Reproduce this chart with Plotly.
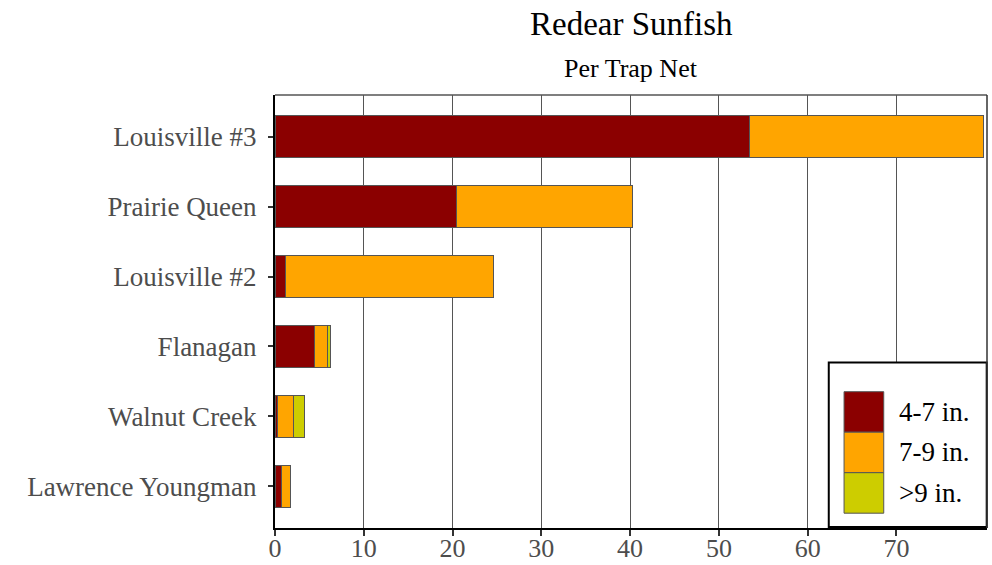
import plotly.graph_objects as go

lakes = ["Louisville #3", "Prairie Queen", "Louisville #2", "Flanagan", "Walnut Creek", "Lawrence Youngman"]
size_4_7 = [53.5, 20.4, 1.2, 4.5, 0.3, 0.7]
size_7_9 = [26.3, 19.9, 23.4, 1.4, 1.8, 1.0]
size_9p = [0.0, 0.0, 0.0, 0.3, 1.2, 0.0]
series_names = ["4-7 in.", "7-9 in.", ">9 in."]
colors = ["#8B0000", "#FFA500", "#CDCD00"]
x_ticks = [0, 10, 20, 30, 40, 50, 60, 70]

FONT = "Liberation Serif, Times New Roman, serif"

fig = go.Figure()
for name, vals, col in zip(series_names, [size_4_7, size_7_9, size_9p], colors):
    fig.add_trace(go.Bar(
        y=lakes, x=vals, name=name, orientation="h",
        marker=dict(color=col, line=dict(color="#555555", width=1)),
        width=0.6, showlegend=False,
    ))

# plot area in pixels
L, R, T, B = 275, 987.3, 95, 528
W, H = 992, 565

def px(x):
    return (x - L) / (R - L)

def py(y):
    return (B - y) / (B - T)

shapes = []
annotations = []
# legend box
shapes.append(dict(type="rect", xref="paper", yref="paper",
                   x0=px(829), x1=px(987), y0=py(527), y1=py(362.5),
                   line=dict(color="black", width=2), fillcolor="white", layer="above"))
key_tops = [391.7, 432.2, 472.7]
for i, (name, col) in enumerate(zip(series_names, colors)):
    y0 = key_tops[i]
    shapes.append(dict(type="rect", xref="paper", yref="paper",
                       x0=px(844.3), x1=px(884), y0=py(y0 + 40.5), y1=py(y0),
                       line=dict(color="#555555", width=1), fillcolor=col, layer="above"))
    annotations.append(dict(xref="paper", yref="paper", x=px(897), y=py(y0 + 20.25),
                            text=name, showarrow=False, xanchor="left", yanchor="middle",
                            font=dict(family=FONT, size=27, color="black")))

annotations.append(dict(xref="paper", yref="paper", x=0.5, y=py(24), text="Redear Sunfish",
                        showarrow=False, xanchor="center", yanchor="middle",
                        font=dict(family=FONT, size=33, color="black")))
annotations.append(dict(xref="paper", yref="paper", x=0.5, y=py(68), text="Per Trap Net",
                        showarrow=False, xanchor="center", yanchor="middle",
                        font=dict(family=FONT, size=26, color="black")))

fig.update_layout(
    template="none",
    barmode="stack",
    width=W, height=H,
    margin=dict(l=L, r=W - R, t=T, b=H - B, pad=0),
    plot_bgcolor="white", paper_bgcolor="white",
    font=dict(family=FONT, size=27, color="#4d4d4d"),
    shapes=shapes, annotations=annotations,
    xaxis=dict(range=[0, 80.2], tickvals=x_ticks, showgrid=True, gridcolor="#555555", gridwidth=1,
               zeroline=False, showline=True, linecolor="black", linewidth=2, mirror=False,
               automargin=False,
               ticks="outside", ticklen=6, tickcolor="#333333", tickwidth=1.5,
               ticklabelstandoff=-10,
               tickfont=dict(family=FONT, size=26, color="#4d4d4d")),
    yaxis=dict(categoryorder="array", categoryarray=lakes, range=[5.6, -0.6],
               showgrid=False, zeroline=False, showline=True, linecolor="black", linewidth=2,
               automargin=False,
               ticks="outside", ticklen=5, tickcolor="#333333", tickwidth=1.5,
               ticklabelstandoff=6,
               tickfont=dict(family=FONT, size=27, color="#4d4d4d")),
)
# top and right thin borders
fig.add_shape(type="line", xref="paper", yref="paper", x0=0, x1=1, y0=1, y1=1,
              line=dict(color="#555555", width=1.5))
fig.add_shape(type="line", xref="paper", yref="paper", x0=1, x1=1, y0=0, y1=1,
              line=dict(color="#333333", width=1.5))

fig.write_html("out.html", config={"displayModeBar": False},
               post_script="document.body.style.margin='0';document.body.style.overflow='hidden';")
